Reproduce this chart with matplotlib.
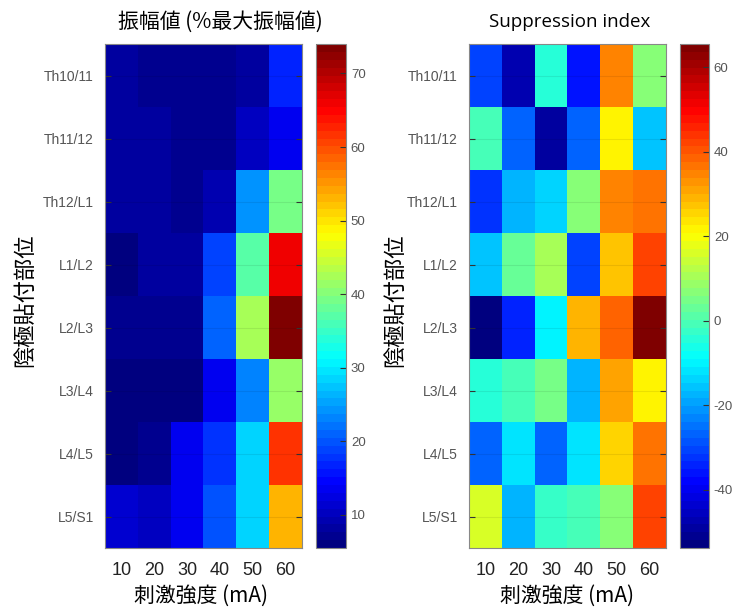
import numpy as np
import matplotlib
matplotlib.use("Agg")
import matplotlib.pyplot as plt
from matplotlib.colors import LinearSegmentedColormap

plt.rcParams['font.family'] = ['Liberation Sans', 'Noto Sans CJK JP', 'DejaVu Sans']
plt.rcParams['axes.unicode_minus'] = False

# stimulation intensity (mA) and cathode sites
intensity = [10, 20, 30, 40, 50, 60]
sites = ['Th10/11', 'Th11/12', 'Th12/L1', 'L1/L2', 'L2/L3', 'L3/L4', 'L4/L5', 'L5/S1']

# amplitude (% of max amplitude), rows = sites, cols = intensity
amp_th10 = [8.0, 7.5, 7.0, 7.0, 8.5, 17.0]
amp_th11 = [8.5, 8.0, 7.0, 7.0, 10.0, 14.0]
amp_th12 = [8.5, 8.0, 7.0, 9.0, 24.3, 39.7]
amp_l1 = [6.0, 8.0, 8.0, 19.0, 37.0, 65.5]
amp_l2 = [7.5, 7.0, 7.0, 21.0, 42.5, 74.0]
amp_l3 = [6.5, 6.5, 6.5, 14.0, 23.5, 41.5]
amp_l4 = [6.5, 7.5, 13.0, 17.5, 29.0, 62.0]
amp_l5 = [11.3, 10.0, 14.0, 20.0, 29.0, 53.5]

# suppression index
si_th10 = [-31.0, -46.6, -4.9, -37.0, 33.9, 7.0]
si_th11 = [-1.3, -27.0, -49.0, -27.0, 20.8, -15.0]
si_th12 = [-33.0, -18.0, -13.0, 6.0, 34.0, 36.9]
si_l1 = [-15.0, 2.9, 10.6, -31.0, 26.7, 43.0]
si_l2 = [-53.0, -34.7, -10.7, 28.5, 38.7, 65.0]
si_l3 = [-5.0, -1.3, 4.6, -18.0, 31.0, 22.5]
si_l4 = [-27.0, -12.0, -27.0, -12.0, 25.0, 37.0]
si_l5 = [16.6, -16.8, -3.0, -0.1, 7.0, 41.6]

amp = np.array([amp_th10, amp_th11, amp_th12, amp_l1, amp_l2, amp_l3, amp_l4, amp_l5])
si = np.array([si_th10, si_th11, si_th12, si_l1, si_l2, si_l3, si_l4, si_l5])

# MATLAB-style jet, 64 levels
jet_dict = {
    'red': [(0, 0, 0), (0.375, 0, 0), (0.625, 1, 1), (0.875, 1, 1), (1, 0.5, 0.5)],
    'green': [(0, 0, 0), (0.125, 0, 0), (0.375, 1, 1), (0.625, 1, 1), (0.875, 0, 0), (1, 0, 0)],
    'blue': [(0, 0.5, 0.5), (0.125, 1, 1), (0.375, 1, 1), (0.625, 0, 0), (1, 0, 0)],
}
cmap = LinearSegmentedColormap('mjet', jet_dict, N=64)
W, H = 736, 610


def box(x0, x1, y0, y1):
    return [x0 / W, 1 - y1 / H, (x1 - x0) / W, (y1 - y0) / H]


def heat(ax, cax, data, vmin, vmax, cticks):
    im = ax.imshow(data, cmap=cmap, vmin=vmin, vmax=vmax, aspect='auto',
                   extent=[5, 65, len(sites) - 0.5, -0.5], interpolation='nearest')
    ax.set_xticks(intensity)
    ax.set_xticklabels([str(v) for v in intensity], fontsize=13, color='#222222')
    ax.set_xticks([20, 40, 60], minor=True)
    ax.set_yticks(range(len(sites)))
    ax.set_yticklabels(sites, fontsize=10, color='#555555')
    ax.tick_params(axis='x', which='major', length=0, pad=10)
    ax.tick_params(axis='x', which='minor', direction='in', length=4, color='#333333')
    ax.tick_params(axis='y', direction='in', length=4, right=True, color='#333333', pad=8)
    ax.grid(True, which='minor', axis='x', color='black', alpha=0.12, linewidth=0.8)
    ax.grid(True, which='major', axis='y', color='black', alpha=0.08, linewidth=0.8)
    for s in ax.spines.values():
        s.set_color('#888888')
        s.set_linewidth(0.8)
    cb = plt.colorbar(im, cax=cax)
    cb.set_ticks(cticks)
    cb.ax.tick_params(direction='in', length=4, labelsize=9.5, labelcolor='#555555', color='#333333')
    cb.outline.set_edgecolor('#888888')
    cb.outline.set_linewidth(0.8)
    return im


fig = plt.figure(figsize=(W / 100, H / 100), dpi=100)

ax1 = fig.add_axes(box(105, 302, 44, 548))
cax1 = fig.add_axes(box(316, 346, 44, 548))
heat(ax1, cax1, amp, 5.5, 74.0, [10, 20, 30, 40, 50, 60, 70])

ax2 = fig.add_axes(box(469, 666, 44, 548))
cax2 = fig.add_axes(box(680, 709, 44, 548))
heat(ax2, cax2, si, -53.8, 65.5, [-40, -20, 0, 20, 40, 60])

fig.text(220 / W, 1 - 22 / H, '振幅値 (%最大振幅値)', fontsize=15, ha='center', va='center',
         family=['Noto Sans CJK JP', 'DejaVu Sans'])
fig.text(570 / W, 1 - 22 / H, 'Suppression index', fontsize=13.5, ha='center', va='center',
         family=['Open Sans', 'DejaVu Sans'])

for xl, xc in [(25, 201), (395, 567)]:
    fig.text(xl / W, 1 - 300 / H, '陰極貼付部位', fontsize=16, rotation=90, ha='center', va='center',
             family=['Noto Sans CJK JP', 'DejaVu Sans'])
    fig.text(xc / W, 1 - 596 / H, '刺激強度 (mA)', fontsize=15, ha='center', va='center',
             family=['Noto Sans CJK JP', 'DejaVu Sans'])

fig.savefig('out.png', dpi=100)
